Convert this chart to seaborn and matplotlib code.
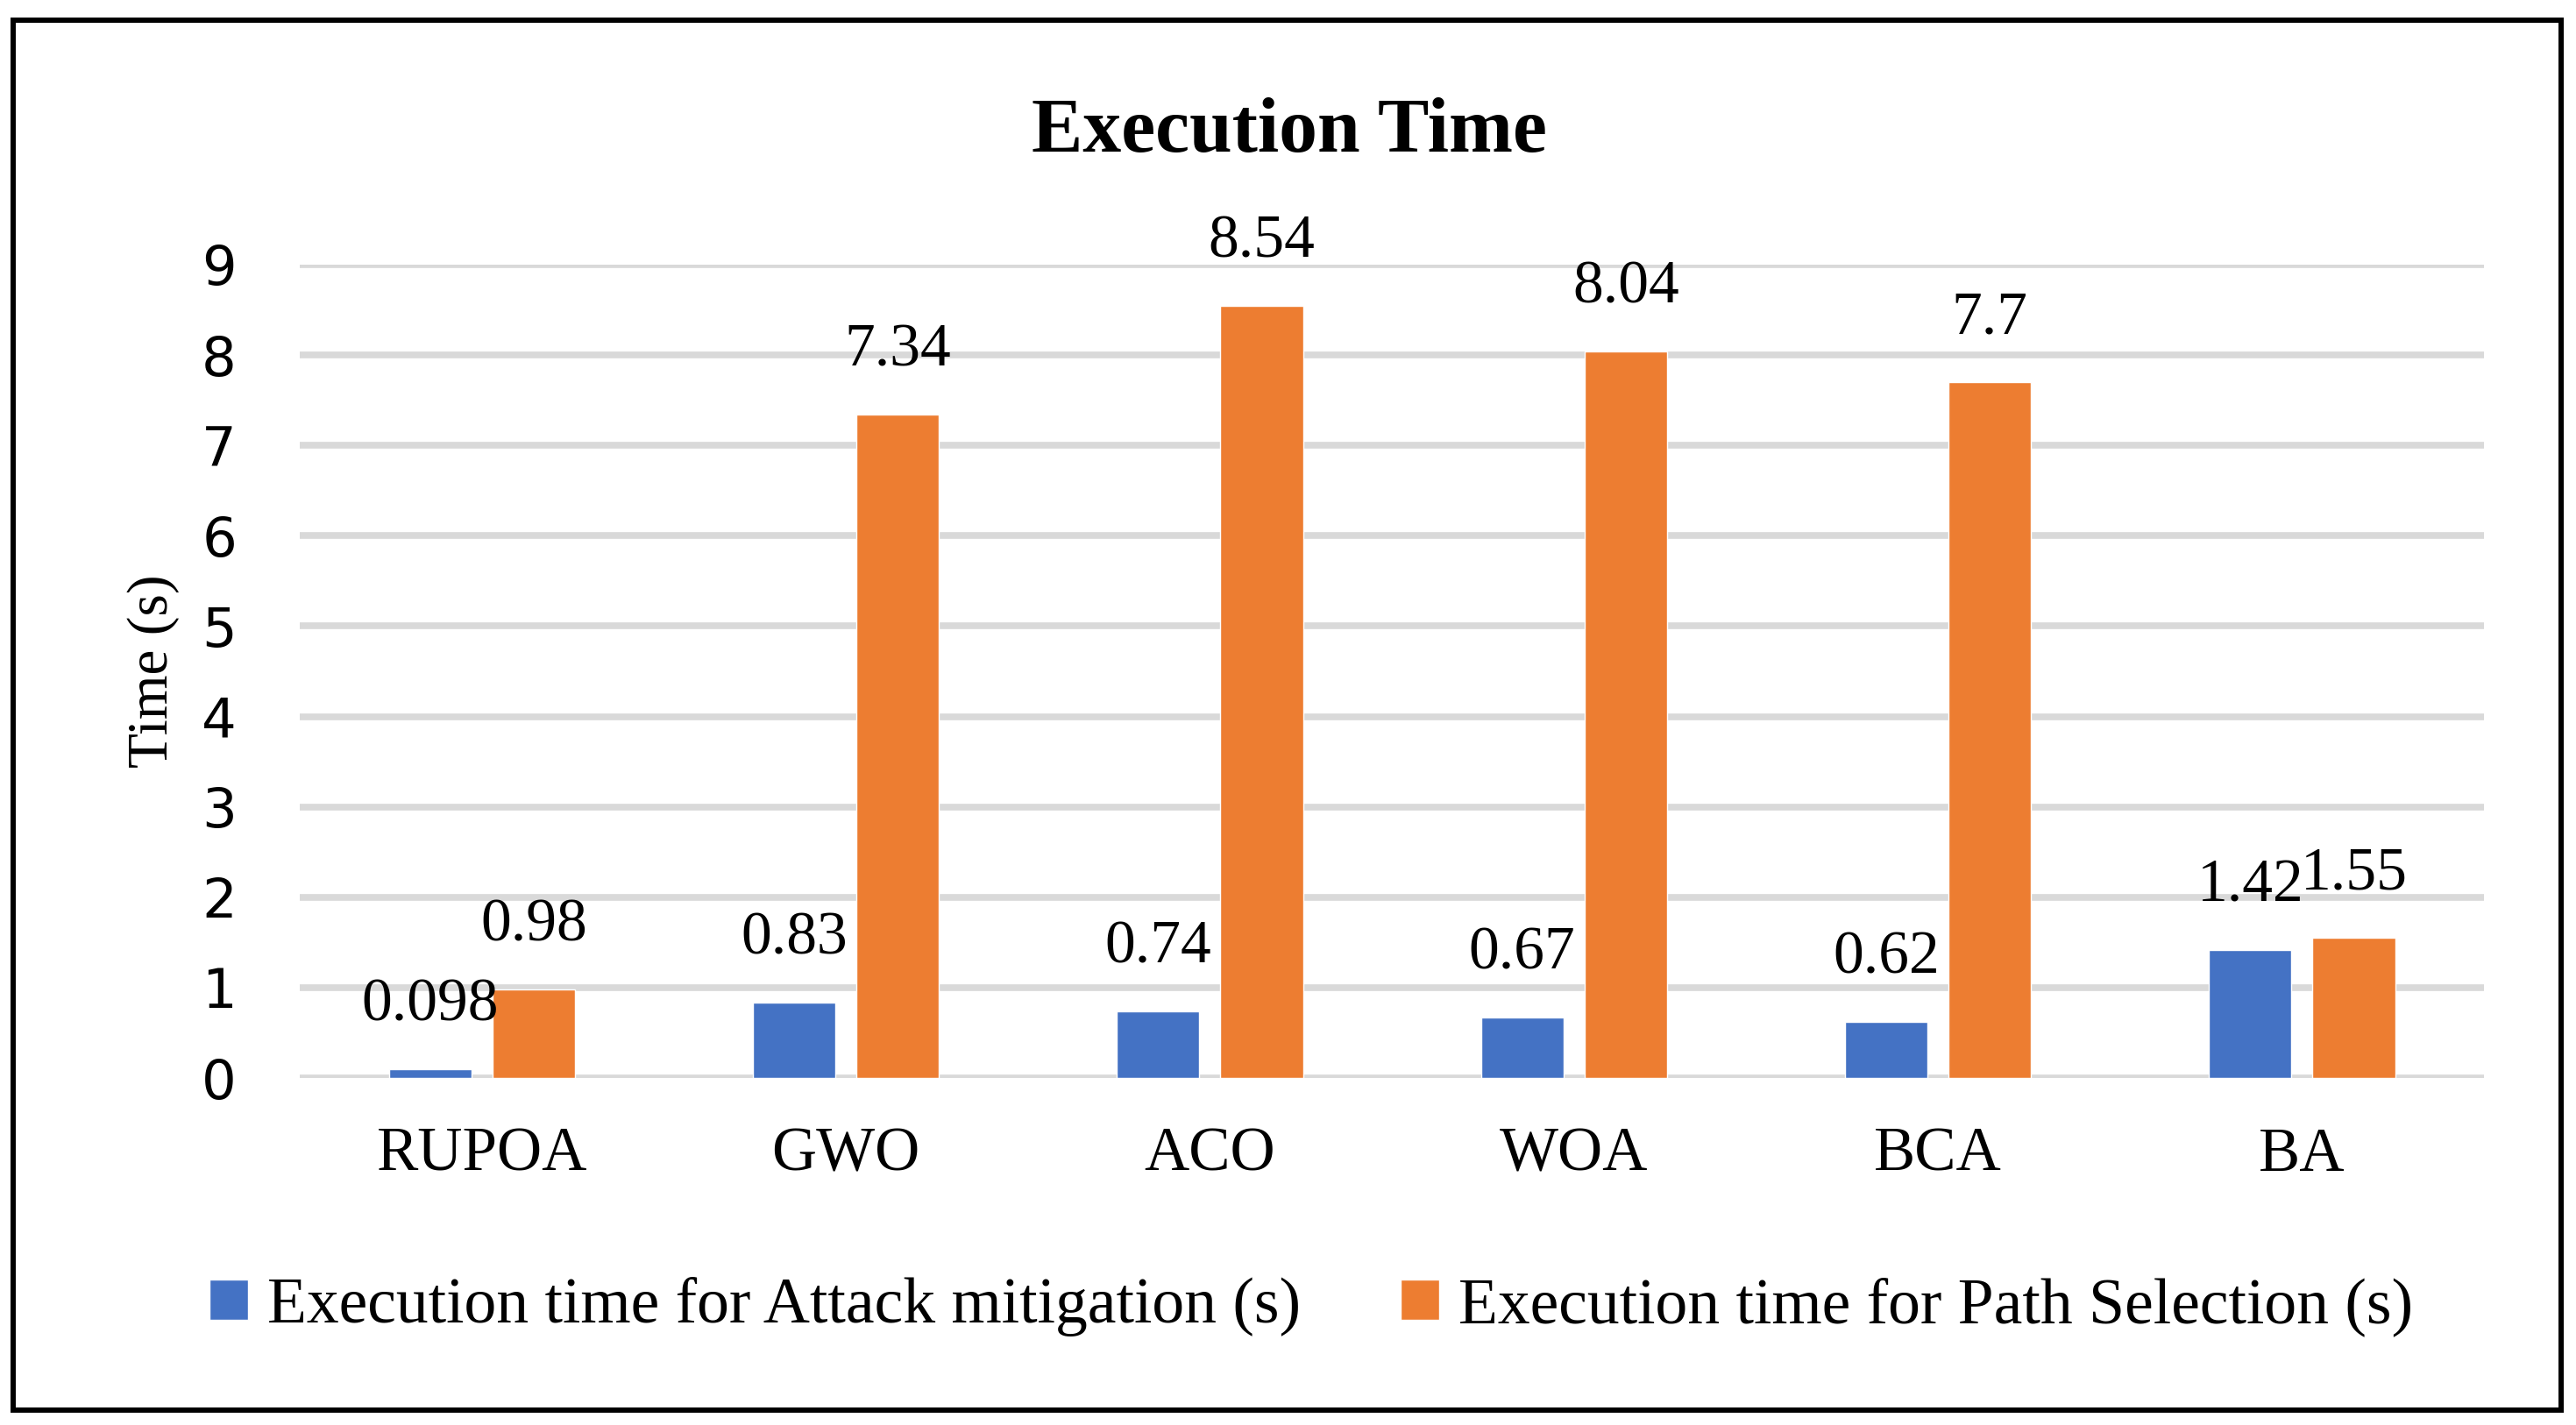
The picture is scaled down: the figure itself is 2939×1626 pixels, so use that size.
import numpy as np
import pandas as pd
import matplotlib
matplotlib.use('Agg')
import matplotlib.pyplot as plt
from matplotlib.patches import Rectangle
import seaborn as sns

# Data
algorithms = ['RUPOA', 'GWO', 'ACO', 'WOA', 'BCA', 'BA']
attack_mitigation = [0.098, 0.83, 0.74, 0.67, 0.62, 1.42]
path_selection = [0.98, 7.34, 8.54, 8.04, 7.7, 1.55]
series_names = ['Execution time for Attack mitigation (s)',
                'Execution time for Path Selection (s)']
y_ticks = [0, 1, 2, 3, 4, 5, 6, 7, 8, 9]

BLUE = '#4472C4'
ORANGE = '#ED7D31'
GRID = '#D9D9D9'
SERIF = 'Liberation Serif'

df = pd.DataFrame({
    'algorithm': algorithms * 2,
    'time': attack_mitigation + path_selection,
    'series': [series_names[0]] * len(algorithms) + [series_names[1]] * len(algorithms),
})

sns.set_theme(style='white')
plt.rcParams['font.family'] = ['DejaVu Sans']
plt.rcParams.update({'text.color': 'black', 'axes.labelcolor': 'black',
                     'xtick.color': 'black', 'ytick.color': 'black'})

fig = plt.figure(figsize=(29.39, 16.26), dpi=100)
ax = fig.add_axes([0.1164, 0.2435, 0.8479, 0.5708])

sns.barplot(data=df, x='algorithm', y='time', hue='series',
            palette=[BLUE, ORANGE], width=0.569, gap=0.203,
            saturation=1, ax=ax, zorder=3)

ax.set_ylim(0, 9)
ax.set_xlim(-0.5, len(algorithms) - 0.5)
ax.set_yticks(y_ticks)
for y in y_ticks:
    ax.axhline(y, color=GRID, lw=5.5, zorder=1)
ax.grid(False)
for s in ax.spines.values():
    s.set_visible(False)
ax.tick_params(axis='both', length=0)
ax.tick_params(axis='y', pad=52, labelsize=45)
ax.tick_params(axis='x', pad=40)
for lab in ax.get_xticklabels():
    lab.set_fontfamily(SERIF)
    lab.set_fontsize(51)

ax.set_xlabel('')
ax.set_ylabel('Time (s)', fontfamily=SERIF, fontsize=47)
ax.yaxis.set_label_coords(-0.055, 0.5)

# value labels above bars
for cont, vals in zip(ax.containers, [attack_mitigation, path_selection]):
    for bar, v in zip(cont, vals):
        ax.annotate(f'{v:g}', (bar.get_x() + bar.get_width() / 2, bar.get_height()),
                    xytext=(0, 40), textcoords='offset points',
                    ha='center', va='baseline', fontfamily=SERIF, fontsize=50,
                    zorder=4)

handles, labels = ax.get_legend_handles_labels()
ax.get_legend().remove()
fig.legend(handles, labels, loc='center', bbox_to_anchor=(0.509, 0.083), ncol=2,
           frameon=False, prop={'family': SERIF, 'size': 53},
           handlelength=0.6, handleheight=0.6, handletextpad=0.3,
           columnspacing=1.55)

fig.text(0.5005, 0.8936, 'Execution Time', ha='center', va='baseline',
         fontfamily=SERIF, fontweight='bold', fontsize=63)

# outer frame
fig.patches.append(Rectangle((0.005, 0.0105), 0.9892, 0.9755, transform=fig.transFigure,
                             fill=False, edgecolor='black', lw=4.3, zorder=10))

fig.savefig('out.png', dpi=100, facecolor='white')
